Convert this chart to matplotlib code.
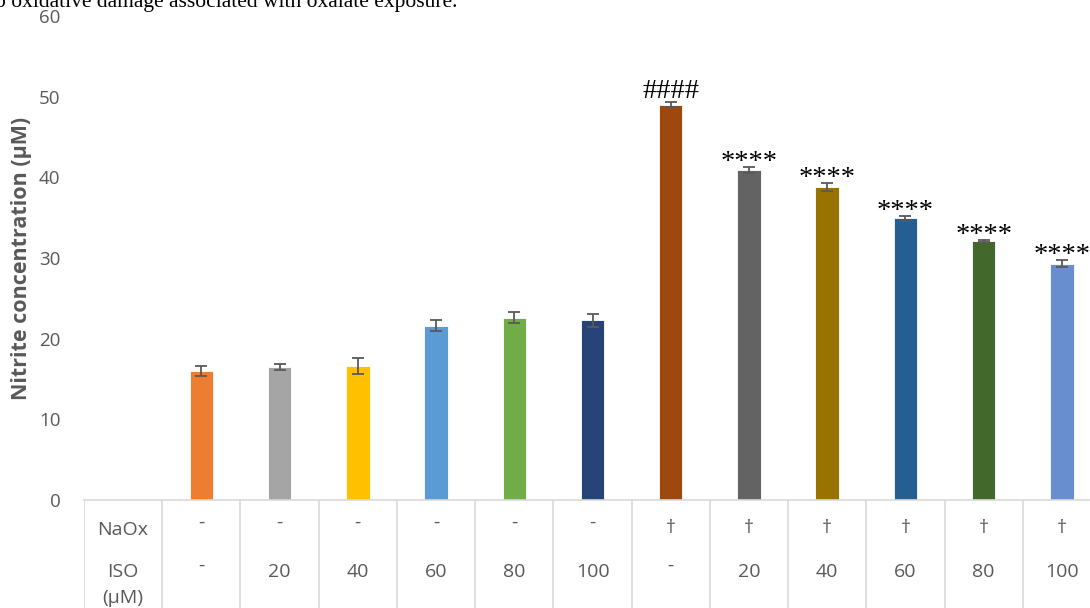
# nitrite concentration bar chart with treatment table underneath

import matplotlib
matplotlib.use('Agg')
import matplotlib.pyplot as plt
import numpy as np


# data
# ---

naox = ['-', '-', '-', '-', '-', '-', '†', '†', '†', '†', '†', '†']
iso = ['-', '20', '40', '60', '80', '100', '-', '20', '40', '60', '80', '100']
nitrite = [16.0, 16.5, 16.6, 21.6, 22.6, 22.3, 49.0, 40.9, 38.8, 34.9, 32.1, 29.3]
nitrite_err = [0.6, 0.4, 0.95, 0.7, 0.7, 0.8, 0.3, 0.35, 0.45, 0.3, 0.15, 0.4]
signif = ['', '', '', '', '', '', '####', '****', '****', '****', '****', '****']
colours = ['#ED7D31', '#A5A5A5', '#FFC000', '#5B9BD5', '#70AD47', '#264478',
           '#9E480E', '#636363', '#997300', '#255E91', '#43682B', '#698ED0']

grey_txt = '#595959'
grey_line = '#D9D9D9'
sans = ['Open Sans', 'DejaVu Sans']
serif = ['Liberation Serif', 'DejaVu Serif']


# figure
# ---

W, H = 1090, 608
fig = plt.figure(figsize=(W / 100, H / 100), dpi=100)

# chart axes: x slots 0..12, slot 0 holds the row labels of the table
ax = fig.add_axes([84 / W, 108 / H, 1017 / W, 484 / H])
xs = np.arange(1, len(nitrite) + 1)
ax.bar(xs, nitrite, width=0.3, color=colours, edgecolor='white', linewidth=0.6,
       yerr=nitrite_err, error_kw=dict(ecolor=grey_txt, elinewidth=1.3, capsize=4.5, capthick=1.3))

for x, m, e, s in zip(xs, nitrite, nitrite_err, signif):
    if s == '':
        continue
    # hashes sit a little above the error bar, asterisks ride higher in the font
    dy = 4 if s.startswith('#') else -2
    ax.annotate(s, xy=(x, m + e), xytext=(0, dy), textcoords='offset pixels',
                ha='center', va='baseline', fontsize=20.5, family=serif, color='black')

ax.set_xlim(-0.5, 12.5)
ax.set_ylim(0, 60)
ax.set_yticks(np.arange(0, 61, 10))
ax.set_xticks([])
ax.tick_params(axis='y', length=0, pad=17, labelsize=13.5, labelcolor=grey_txt)
for t in ax.get_yticklabels():
    t.set_family(sans)
for side in ['top', 'right', 'left']:
    ax.spines[side].set_visible(False)
ax.spines['bottom'].set_color(grey_line)
ax.spines['bottom'].set_linewidth(1.2)

ax.set_ylabel('Nitrite concentration (µM)', fontsize=15.5, fontweight='bold',
              color=grey_txt, family=sans)
ax.yaxis.set_label_coords(-52 / 1017, 0.5)

# table under the axis, y in pixel rows
tab = fig.add_axes([84 / W, 0, 1017 / W, 108 / H])
tab.set_xlim(-0.5, 12.5)
tab.set_ylim(608, 500)
tab.axis('off')
tab.vlines(np.arange(-0.5, 13, 1), 500, 608, color=grey_line, lw=1.2)

txt_kw = dict(ha='center', va='center', fontsize=14, color=grey_txt, family=sans)
tab.text(0, 530, 'NaOx', **txt_kw)
tab.text(0, 572, 'ISO', **txt_kw)
tab.text(0, 598, '(µM)', **txt_kw)
for x, a, b in zip(xs, naox, iso):
    tab.text(x, 523 if a == '-' else 528, a, **txt_kw)
    tab.text(x, 566 if b == '-' else 572, b, **txt_kw)

# caption text cut off at the top of the picture
fig.text(-10.6 / W, 1 - 7 / H, 'to oxidative damage associated with oxalate exposure.',
         ha='left', va='baseline', fontsize=15.5, family=serif, color='black')

fig.savefig('out.png', dpi=100)
